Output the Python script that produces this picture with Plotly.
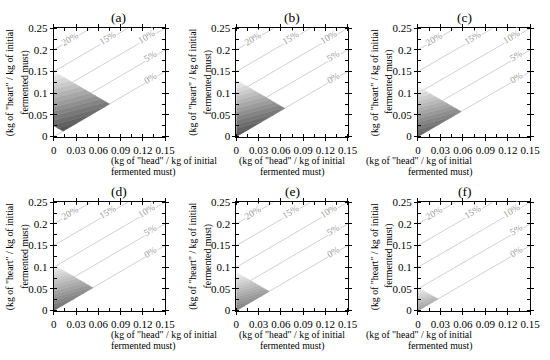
import plotly.graph_objects as go

# ---- data ----
panel_labels = ["(a)", "(b)", "(c)", "(d)", "(e)", "(f)"]
region_top = [0.15, 0.13, 0.115, 0.105, 0.088, 0.053]      # x + y upper bound
region_bottom = [0.025, 0.0, 0.0, 0.0, 0.0, 0.0]           # x + y lower bound
darkest_gray = [85, 85, 100, 115, 130, 160]               # grey level at bottom of region
lightest_gray = 238
line_offsets = [0.0, 0.05, 0.10, 0.15, 0.20]
line_labels = ["0%", "5%", "10%", "15%", "20%"]
label_x = [0.131, 0.131, 0.125, 0.073, 0.022]
x_ticks = [0, 0.03, 0.06, 0.09, 0.12, 0.15]
x_tick_text = ["0", "0.03", "0.06", "0.09", "0.12", "0.15"]
y_ticks = [0, 0.05, 0.1, 0.15, 0.2, 0.25]
y_tick_text = ["0", "0.05", "0.1", "0.15", "0.2", "0.25"]
x_title_lines = ['(kg of "head" / kg of initial', 'fermented must)']
y_title_lines = ['(kg of "heart" / kg of initial', 'fermented must)']
n_bands = 14
band_slope = 0.45

W, Hh = 550, 360
col_px = [(52, 166), (239, 353), (425, 540)]
row_px = [(23, 135), (203, 315)]
FONT = "Liberation Serif"


def clip(poly, a, b, c):
    """keep points with a*x + b*y <= c"""
    out = []
    n = len(poly)
    for i in range(n):
        p, q = poly[i], poly[(i + 1) % n]
        fp = a * p[0] + b * p[1] - c
        fq = a * q[0] + b * q[1] - c
        if fp <= 0:
            out.append(p)
        if (fp < 0 < fq) or (fq < 0 < fp):
            t = fp / (fp - fq)
            out.append((p[0] + t * (q[0] - p[0]), p[1] + t * (q[1] - p[1])))
    return out


fig = go.Figure()
annotations = []

for k in range(6):
    r, c = divmod(k, 3)
    xa = "x" if k == 0 else f"x{k+1}"
    ya = "y" if k == 0 else f"y{k+1}"
    xname = "xaxis" if k == 0 else f"xaxis{k+1}"
    yname = "yaxis" if k == 0 else f"yaxis{k+1}"
    x0p, x1p = col_px[c]
    y0p, y1p = row_px[r]

    # reference lines
    for off, lab, lx in zip(line_offsets, line_labels, label_x):
        xe = min(0.15, 0.25 - off)
        fig.add_trace(go.Scatter(x=[0, xe], y=[off, xe + off], mode="lines",
                                 line=dict(color="#d0d0d0", width=1),
                                 xaxis=xa, yaxis=ya, hoverinfo="skip", showlegend=False))
        annotations.append(dict(x=lx, y=lx + off + 0.004, xref=xa, yref=ya, text=lab,
                                showarrow=False, textangle=-31,
                                font=dict(family=FONT, size=9.5, color="#9a9a9a"),
                                bgcolor="white", borderpad=0))

    # shaded region
    H = region_top[k]
    B = region_bottom[k]
    poly = [(0, B), (0, H), (H / 2, H / 2), (B / 2, B / 2)]
    fvals = [p[1] - band_slope * p[0] for p in poly]
    fmin, fmax = min(fvals), max(fvals)
    d = (fmax - fmin) / n_bands
    for i in range(n_bands):
        lo = fmin + i * d
        hi = lo + d
        pg = clip(poly, band_slope, -1, -lo)     # y - s x >= lo
        pg = clip(pg, -band_slope, 1, hi)        # y - s x <= hi
        if len(pg) < 3:
            continue
        t = i / (n_bands - 1)
        g = int(round(darkest_gray[k] + t * (lightest_gray - darkest_gray[k])))
        col = f"rgb({g},{g},{g})"
        fig.add_trace(go.Scatter(x=[p[0] for p in pg] + [pg[0][0]],
                                 y=[p[1] for p in pg] + [pg[0][1]],
                                 mode="lines", fill="toself", fillcolor=col,
                                 line=dict(width=0.6, color=col),
                                 xaxis=xa, yaxis=ya, hoverinfo="skip", showlegend=False))

    axcommon = dict(showline=True, linecolor="black", linewidth=1, mirror="ticks",
                    ticks="outside", ticklen=3, tickcolor="black", showgrid=False,
                    zeroline=False, tickangle=0, ticklabeloverflow="allow",
                    tickfont=dict(family=FONT, size=11, color="black"))
    fig.layout[xname] = dict(domain=[x0p / W, x1p / W], range=[0, 0.15],
                             tickvals=x_ticks, ticktext=x_tick_text, anchor=ya,
                             minor=dict(dtick=0.015, ticks="inside", ticklen=3, tickcolor="black",
                                        tick0=0),
                             **axcommon)
    fig.layout[yname] = dict(domain=[1 - y1p / Hh, 1 - y0p / Hh], range=[0, 0.25],
                             tickvals=y_ticks, ticktext=y_tick_text, anchor=xa,
                             minor=dict(dtick=0.025, ticks="inside", ticklen=3, tickcolor="black",
                                        tick0=0),
                             **axcommon)

    # titles
    annotations.append(dict(x=(x0p + x1p) / 2 / W, y=1 - (y0p - 11) / Hh, xref="paper", yref="paper",
                            text=panel_labels[k], showarrow=False, yanchor="middle",
                            font=dict(family=FONT, size=13.5, color="black")))
    for txt, dy in zip(x_title_lines, [25, 37]):
        annotations.append(dict(x=(x0p + x1p) / 2 / W, y=1 - (y1p + dy) / Hh, xref="paper",
                                yref="paper", text=txt, showarrow=False, yanchor="middle",
                                font=dict(family=FONT, size=9.8, color="black")))
    for txt, dx in zip(y_title_lines, [44, 29]):
        annotations.append(dict(x=(x0p - dx) / W, y=1 - (y0p + y1p) / 2 / Hh, xref="paper",
                                yref="paper", text=txt, showarrow=False, textangle=-90,
                                xanchor="center", yanchor="middle",
                                font=dict(family=FONT, size=9.8, color="black")))

fig.update_layout(width=W, height=Hh, margin=dict(l=0, r=0, t=0, b=0),
                  paper_bgcolor="white", plot_bgcolor="white", annotations=annotations,
                  showlegend=False)
fig.write_html("out.html", config={"displayModeBar": False},
               post_script="document.body.style.margin='0px';")
